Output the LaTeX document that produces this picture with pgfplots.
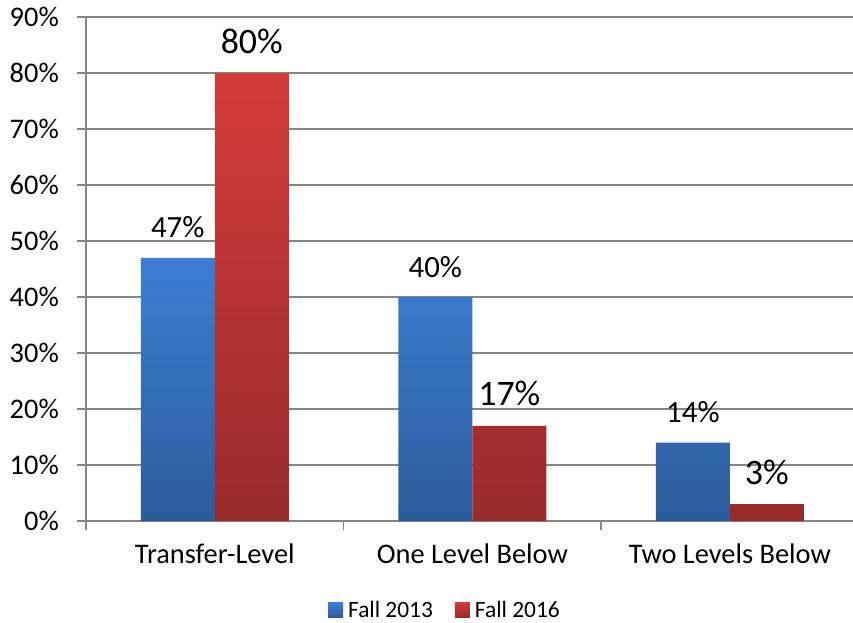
\documentclass[border=0pt]{standalone}
\usepackage{fontspec}
\setmainfont{Carlito}
\usepackage{pgfplots}
\pgfplotsset{compat=1.18}

\definecolor{bluetop}{RGB}{60,126,212}
\definecolor{bluebot}{RGB}{44,92,154}
\definecolor{redtop}{RGB}{212,60,58}
\definecolor{redbot}{RGB}{152,42,42}
\definecolor{gridgray}{RGB}{134,134,134}

\begin{document}
\begin{tikzpicture}
\useasboundingbox (-86bp,-102bp) rectangle (767bp,521bp);
\begin{axis}[
  scale only axis,
  width=767bp, height=504bp,
  xmin=-0.5, xmax=2.478,
  ymin=0, ymax=90,
  ybar=0pt,
  axis lines=left,
  axis line style={-, draw=gridgray, line width=1.5bp},
  ytick={0,10,...,90},
  yticklabel={\pgfmathprintnumber{\tick}\%},
  /pgf/number format/assume math mode=true,
  xtick={0,1,2},
  xticklabels={Transfer-Level, One Level Below, Two Levels Below},
  minor xtick={-0.5,0.5,1.5},
  major x tick style={draw=none},
  tick style={draw=gridgray, line width=1.5bp},
  tick align=outside,
  major tick length=9bp,
  minor tick length=9bp,
  ymajorgrids,
  grid style={draw=gridgray, line width=1.5bp},
  ticklabel style={font=\fontsize{28.5}{28.5}\selectfont},
  yticklabel style={anchor=east, inner sep=0pt},
  yticklabel shift=18bp,
  xticklabel style={yshift=-10bp},
  legend style={at={(0.468,-0.1766)}, anchor=center, legend columns=-1,
    draw=none, font=\fontsize{23.5}{23.5}\selectfont,
    /tikz/every odd column/.append style={column sep=3bp},
    /tikz/every even column/.append style={column sep=20bp}},
  nodes near coords={\pgfmathprintnumber{\pgfplotspointmeta}\%},
]
\addplot[draw=none, top color=bluetop, bottom color=bluebot, bar width=74bp,
  every node near coord/.append style={font=\fontsize{31}{31}\selectfont, anchor=base, yshift=20bp},
  legend image code/.code={\fill[top color=bluetop, bottom color=bluebot] (0bp,-7.5bp) rectangle (15bp,7.5bp);}]
  coordinates {(0,47) (1,40) (2,14)};
\addplot[draw=none, top color=redtop, bottom color=redbot, bar width=74bp,
  every node near coord/.append style={font=\fontsize{36}{36}\selectfont, anchor=base, yshift=20bp},
  legend image code/.code={\fill[top color=redtop, bottom color=redbot] (0bp,-7.5bp) rectangle (15bp,7.5bp);}]
  coordinates {(0,80) (1,17) (2,3)};
\legend{Fall 2013, Fall 2016}
\end{axis}
\end{tikzpicture}
\end{document}
